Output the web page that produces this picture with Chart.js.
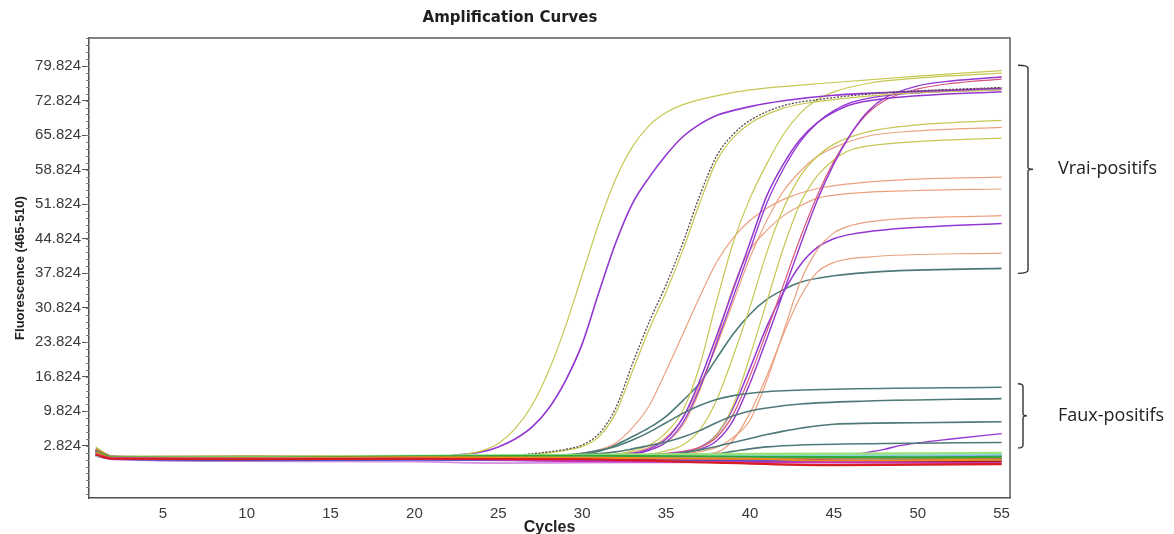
<!DOCTYPE html>
<html>
<head>
<meta charset="utf-8">
<title>Amplification Curves</title>
<script src="https://cdn.jsdelivr.net/npm/chart.js@4.4.1/dist/chart.umd.min.js"></script>
<style>
  html, body { margin: 0; padding: 0; background: #fff; }
  #wrap { width: 1174px; height: 534px; }
</style>
</head>
<body>
<div id="wrap"><canvas id="amp" width="1174" height="534"></canvas></div>
<script>
const X_TICKS = [5, 10, 15, 20, 25, 30, 35, 40, 45, 50, 55];
const Y_TICKS = [2.824, 9.824, 16.824, 23.824, 30.824, 37.824, 44.824, 51.824, 58.824, 65.824, 72.824, 79.824];
const VRAI_RANGE = [37.8, 80.0];
const FAUX_RANGE = [2.4, 15.4];

// vrais positifs : [cycle, fluorescence]
const vpA = [[1,2.6],[2,0.7],[5,0.5],[10,0.5],[15,0.5],[20,0.6],[22,0.8],[23,1.1],[24,1.8],[25,3.3],[26,6.3],[27,11],[28,18],[29,27],[30,37.5],[31,48],[32,57],[33,63.5],[34,67.8],[35,70.4],[36,72],[38,73.8],[40,75],[45,76.5],[50,77.8],[55,78.9]];
const vpB = [[1,1.8],[2,0.5],[10,0.4],[20,0.5],[22,0.8],[24,1.6],[25,2.6],[26,4.2],[27,6.6],[28,10.4],[29,16],[30,23.5],[31,34],[32,44],[33,52],[34,57.3],[35,61.8],[36,65.5],[37,68],[38,69.8],[40,71.6],[42,72.8],[45,73.9],[50,74.7],[55,75.3]];
const vpC = [[1,2.0],[2,0.5],[10,0.4],[20,0.4],[24,0.6],[26,0.9],[28,1.6],[29,2.1],[30,3.0],[31,5.3],[32,10.5],[33,19.5],[34,28],[35,35.5],[36,44],[37,53.5],[38,61.5],[39,66],[40,68.8],[42,71.8],[44,73],[48,74.4],[55,75.5]];
const vpC2 = [[1,1.7],[2,0.5],[10,0.4],[20,0.4],[24,0.6],[26,0.8],[28,1.4],[29,1.9],[30,2.7],[31,4.7],[32,9.5],[33,18],[34,26.5],[35,34],[36,42.5],[37,52],[38,60.5],[39,65.3],[40,68.2],[42,71.3],[44,72.6],[48,74],[55,75.0]];
const vpE = [[1,1.5],[2,0.5],[10,0.4],[20,0.4],[30,0.7],[32,1.1],[33,1.8],[34,3],[35,5.5],[36,10],[37,19],[38,32],[39,44],[40,53],[41,60],[42,66],[43,70.3],[44,73],[45,74.6],[47,76.3],[50,77.4],[55,78.4]];
const vpF1 = [[1,1.6],[2,0.4],[10,0.3],[20,0.4],[30,0.7],[33,1.3],[34,2.2],[35,4.2],[36,8.5],[37,16],[38,25],[39,34.5],[40,44],[41,53.5],[42,60],[43,65],[44,68.3],[45,70.5],[46,72],[48,73.2],[51,74],[55,74.6]];
const vpF2 = [[1,1.7],[2,0.5],[10,0.3],[20,0.4],[30,0.6],[33,1.1],[34,1.9],[35,3.6],[36,7.5],[37,14.5],[38,23.5],[39,33],[40,42.5],[41,52],[42,59],[43,64.5],[44,68.3],[45,70.8],[46,72.4],[48,73.8],[51,74.6],[55,75.1]];
const vpG = [[1,1.5],[2,0.4],[10,0.3],[20,0.4],[30,0.6],[35,1.2],[36,1.5],[37,2.1],[38,3.8],[39,8],[40,15.5],[41,24.5],[42,34],[43,43.5],[44,52.5],[45,60],[46,66],[47,70.5],[48,73.3],[50,75.8],[52,76.8],[55,77.6]];
const vpG2 = [[1,1.9],[2,0.5],[10,0.3],[20,0.4],[30,0.6],[35,1.3],[36,1.7],[37,2.5],[38,4.5],[39,9.2],[40,17],[41,26],[42,35.5],[43,45],[44,53.5],[45,60.5],[46,66],[47,70.2],[48,72.8],[50,75.2],[52,76.3],[55,77.2]];
const vpH = [[1,1.4],[2,0.5],[10,0.4],[20,0.4],[30,0.6],[34,1.1],[35,1.8],[36,3],[37,6],[38,12],[39,21],[40,31],[41,42],[42,51],[43,57.5],[44,61.5],[45,64],[47,66.5],[50,67.9],[55,68.8]];
const vpI = [[1,1.3],[2,0.5],[10,0.4],[20,0.4],[30,0.5],[35,1.1],[36,1.6],[37,2.4],[38,5],[39,11],[40,21],[41,32],[42,43],[43,52],[44,57.5],[45,60.8],[46,62.8],[48,64],[51,64.7],[55,65.2]];
const vpO1 = [[1,1.6],[2,0.5],[10,0.4],[20,0.4],[30,0.7],[33,1.5],[34,2.5],[35,4.5],[36,8.5],[37,15],[38,23],[39,32],[40,41],[41,48.5],[42,54.5],[43,58.5],[44,61.5],[45,63.3],[47,65.6],[50,66.7],[55,67.4]];
const vpO2 = [[1,1.5],[2,0.5],[10,0.4],[20,0.4],[28,0.7],[30,1.3],[31,2],[32,3.4],[33,6.5],[34,11],[35,18],[36,25.5],[37,33],[38,40],[39,45],[40,48.5],[41,51],[42,52.8],[44,55],[47,56.3],[50,56.9],[55,57.3]];
const vpO3 = [[1,1.4],[2,0.5],[10,0.4],[20,0.4],[30,0.6],[33,1.2],[34,2],[35,3.5],[36,7],[37,14],[38,24],[39,35],[40,42.5],[41,46.5],[42,49.5],[43,51.5],[44,53],[46,54],[50,54.6],[55,54.9]];
const vpO4 = [[1,1.2],[2,0.4],[10,0.3],[20,0.4],[30,0.6],[36,1.2],[38,2.5],[39,4.5],[40,8],[41,16],[42,26],[43,36],[44,42.5],[45,46],[46,47.5],[48,48.6],[55,49.5]];
const vpO5 = [[1,1.3],[2,0.4],[10,0.3],[20,0.4],[30,0.5],[36,0.9],[38,1.5],[39,4],[40,9.5],[41,17],[42,25.5],[43,33],[44,38],[45,40],[47,41.1],[55,41.9]];
const vpP = [[1,1.4],[2,0.4],[10,0.3],[20,0.4],[30,0.6],[35,1.2],[37,2.5],[38,5],[39,10.5],[40,18.5],[41,27],[42,34],[43,39.5],[44,43],[45,44.8],[46,45.7],[48,46.6],[51,47.3],[55,47.9]];
const vpT = [[1,1.2],[2,0.4],[10,0.3],[20,0.4],[28,0.7],[30,1.0],[31,1.7],[32,3],[33,4.7],[34,6.5],[35,8.8],[36,12],[37,15.5],[38,20.5],[39,25.5],[40,29.5],[41,32.5],[42,34.5],[43,36],[45,37.3],[48,38.2],[55,38.8]];

// faux positifs
const fp1 = [[1,1.1],[2,0.4],[10,0.3],[20,0.4],[28,0.8],[30,1.3],[31,1.9],[32,2.7],[33,4],[34,5.6],[35,7.5],[36,9.4],[37,11],[38,12.2],[39,13],[41,13.8],[45,14.3],[55,14.7]];
const fp2 = [[1,1.0],[2,0.4],[10,0.3],[20,0.4],[30,1.0],[32,1.6],[33,2.2],[34,2.9],[35,3.6],[36,4.6],[37,5.9],[38,7.5],[39,8.9],[40,9.9],[41,10.5],[43,11.3],[47,11.9],[55,12.4]];
const fp3 = [[1,1.0],[2,0.3],[10,0.3],[20,0.4],[30,0.6],[34,0.9],[36,1.4],[37,2.0],[38,2.7],[39,3.5],[40,4.3],[41,5.1],[42,5.8],[43,6.4],[45,7.2],[50,7.5],[55,7.7]];
const fp4 = [[1,0.9],[2,0.3],[10,0.3],[20,0.3],[30,0.4],[36,0.6],[38,1.2],[39,1.7],[40,2.2],[41,2.6],[43,3.0],[48,3.3],[55,3.5]];
const fp5 = [[1,1.2],[2,0.4],[10,0.2],[20,0.3],[30,0.3],[40,0.4],[44,0.5],[46,0.9],[47,1.5],[48,2.1],[49,2.9],[50,3.4],[52,4.2],[55,5.3]];

// négatifs
const ngRed = [[1,1.0],[2,0.2],[10,0.1],[20,0.2],[30,0.1],[38,-0.6],[45,-1.1],[50,-1.0],[55,-0.9]];
const ngDarkRed = [[1,1.3],[2,0.3],[10,0.2],[20,0.3],[30,0.1],[40,-0.5],[50,-0.4],[55,-0.3]];
const ngGreen = [[1,1.6],[2,0.5],[10,0.4],[20,0.7],[30,0.8],[40,0.6],[50,0.5],[55,0.6]];
const ngLime = [[1,1.2],[2,0.6],[10,0.5],[20,0.8],[30,1.0],[40,1.2],[50,1.3],[55,1.4]];
const ngCyan = [[1,0.9],[2,0.4],[10,0.3],[20,0.5],[30,0.7],[40,1.0],[50,1.1],[55,1.3]];
const ngBlue = [[1,0.8],[2,0.2],[10,-0.1],[20,0.0],[30,-0.2],[40,-0.3],[50,-0.1],[55,0.0]];
const ngMagenta = [[1,1.1],[2,0.3],[10,0.2],[20,0.2],[30,-0.3],[40,-0.5],[50,-0.6],[55,-0.7]];
const ngLilac = [[1,0.9],[2,0.1],[10,-0.3],[20,-0.4],[25,-0.7],[30,-0.6],[40,-0.5],[55,-0.4]];
const ngOrange = [[1,1.4],[2,0.4],[10,0.3],[20,0.5],[30,0.4],[40,0.2],[45,-0.2],[50,-0.1],[55,0.0]];
const ngSky = [[1,1.0],[2,0.3],[10,-0.2],[20,0.1],[30,0.3],[40,0.5],[50,0.8],[55,0.9]];
const ngOlive = [[1,2.2],[2,0.6],[10,0.7],[20,0.6],[30,0.5],[40,0.4],[50,0.3],[55,0.4]];
const ngViolet = [[1,1.8],[2,0.5],[10,0.0],[20,0.1],[30,-0.1],[40,-0.3],[50,-0.2],[55,0.2]];
const ngRose = [[1,2.0],[2,0.7],[10,0.3],[20,0.3],[30,0.2],[40,0.0],[50,0.4],[55,0.7]];
const ngMint = [[1,1.0],[2,0.5],[10,0.4],[20,0.6],[30,0.6],[40,0.9],[50,1.0],[55,1.1]];

const YELLOW = "#c6c752", PURPLE = "#9336d2", SALMON = "#eba17f", TEAL = "#4d7a78";

// first entries are drawn on top
const SERIES = [
  { data: ngRed, color: "#d81e1e", w: 2.2 },
  { data: ngMagenta, color: "#cc2fb8", w: 2.0 },
  { data: ngOrange, color: "#ef8a1f", w: 2.0 },
  { data: ngGreen, color: "#2ea83a", w: 2.0 },
  { data: ngLime, color: "#9be07a", w: 2.2 },
  { data: ngCyan, color: "#8fe3e0", w: 2.2 },
  { data: ngBlue, color: "#3d5fd0", w: 2.0 },
  { data: ngDarkRed, color: "#9c1c1c", w: 2.0 },
  { data: ngLilac, color: "#d58ee0", w: 1.8 },
  { data: ngSky, color: "#84b4e3", w: 2.0 },
  { data: ngOlive, color: "#b08d3c", w: 2.0 },
  { data: ngViolet, color: "#8a22d8", w: 2.0 },
  { data: ngRose, color: "#c04a78", w: 2.0 },
  { data: ngMint, color: "#60c8a0", w: 2.0 },
  { data: fp1, color: TEAL, w: 1.6 },
  { data: fp2, color: TEAL, w: 1.6 },
  { data: fp3, color: TEAL, w: 1.6 },
  { data: fp4, color: TEAL, w: 1.6 },
  { data: fp5, color: PURPLE, w: 1.4 },
  { data: vpC, color: "#5a4a48", w: 1.3, dash: [2, 1.5] },
  { data: vpC2, color: YELLOW, w: 1.2 },
  { data: vpA, color: YELLOW, w: 1.2 },
  { data: vpB, color: PURPLE, w: 1.6 },
  { data: vpE, color: YELLOW, w: 1.2 },
  { data: vpF1, color: PURPLE, w: 1.5 },
  { data: vpF2, color: PURPLE, w: 1.3 },
  { data: vpG, color: PURPLE, w: 1.4 },
  { data: vpG2, color: "#d6557d", w: 1.2 },
  { data: vpH, color: YELLOW, w: 1.2 },
  { data: vpI, color: YELLOW, w: 1.2 },
  { data: vpO1, color: SALMON, w: 1.2 },
  { data: vpO2, color: SALMON, w: 1.2 },
  { data: vpO3, color: SALMON, w: 1.2 },
  { data: vpO4, color: SALMON, w: 1.2 },
  { data: vpO5, color: SALMON, w: 1.2 },
  { data: vpP, color: PURPLE, w: 1.5 },
  { data: vpT, color: TEAL, w: 1.6 },
];

function drawBrace(ctx, x, yTop, yBot, arm, nub) {
  const mid = (yTop + yBot) / 2;
  ctx.beginPath();
  ctx.moveTo(x - arm, yTop);
  ctx.quadraticCurveTo(x, yTop, x, yTop + 3);
  ctx.lineTo(x, mid - 2);
  ctx.quadraticCurveTo(x, mid, x + nub, mid);
  ctx.quadraticCurveTo(x, mid, x, mid + 2);
  ctx.lineTo(x, yBot - 3);
  ctx.quadraticCurveTo(x, yBot, x - arm, yBot);
  ctx.stroke();
  return mid;
}

// frame, minor y ticks and the two group braces
const framePlugin = {
  id: "frame",
  afterDraw(chart) {
    const { ctx, chartArea: a, scales: { y } } = chart;
    ctx.save();
    ctx.strokeStyle = "#5a5a5a";
    ctx.lineWidth = 1.5;
    ctx.beginPath();
    ctx.moveTo(a.left, a.top);
    ctx.lineTo(a.right, a.top);
    ctx.lineTo(a.right, a.bottom);
    ctx.stroke();

    ctx.lineWidth = 1;
    ctx.strokeStyle = "#808080";
    const step = (Y_TICKS[1] - Y_TICKS[0]) / 5;
    let v = Y_TICKS[0];
    while (v - step > y.min) v -= step;
    for (; v <= y.max; v += step) {
      const py = Math.round(y.getPixelForValue(v)) + 0.5;
      ctx.beginPath();
      ctx.moveTo(a.left - 3, py);
      ctx.lineTo(a.left, py);
      ctx.stroke();
    }

    ctx.strokeStyle = "#333";
    ctx.lineWidth = 1.4;
    ctx.fillStyle = "#222";
    ctx.font = "18px 'Open Sans'";
    ctx.textBaseline = "middle";
    const vMid = drawBrace(ctx, a.right + 18, y.getPixelForValue(VRAI_RANGE[1]), y.getPixelForValue(VRAI_RANGE[0]), 10, 5);
    ctx.fillText("Vrai-positifs", a.right + 48, vMid);
    const fMid = drawBrace(ctx, a.right + 13, y.getPixelForValue(FAUX_RANGE[1]), y.getPixelForValue(FAUX_RANGE[0]), 5, 4);
    ctx.fillText("Faux-positifs", a.right + 48, fMid);
    ctx.restore();
  },
};

Chart.defaults.font.family = "'Liberation Sans', Arial, sans-serif";

new Chart(document.getElementById("amp"), {
  type: "line",
  data: {
    datasets: SERIES.map((s) => ({
      data: s.data.map(([x, y]) => ({ x, y })),
      borderColor: s.color,
      borderWidth: s.w,
      borderDash: s.dash || [],
      pointRadius: 0,
      fill: false,
      cubicInterpolationMode: "monotone",
    })),
  },
  options: {
    responsive: false,
    animation: false,
    events: [],
    layout: { padding: { left: 10, right: 164, top: 0, bottom: 0 } },
    plugins: {
      legend: { display: false },
      tooltip: { enabled: false },
      title: {
        display: true,
        text: "Amplification Curves",
        color: "#1e1e1e",
        font: { family: "'DejaVu Sans'", size: 15, weight: "bold", lineHeight: 1.2 },
        padding: { top: 9, bottom: 11 },
      },
    },
    scales: {
      x: {
        type: "linear",
        min: 0.6,
        max: 55.5,
        afterBuildTicks: (s) => { s.ticks = X_TICKS.map((value) => ({ value })); },
        afterFit: (s) => { s.height = 36; s.paddingLeft = 0; s.paddingRight = 0; },
        grid: { drawOnChartArea: false, drawTicks: false },
        border: { color: "#505050", width: 1.5 },
        ticks: { color: "#3a3a3a", font: { size: 15 }, padding: 7, maxRotation: 0 },
        title: {
          display: true,
          text: "Cycles",
          color: "#222",
          font: { size: 16, weight: "bold", lineHeight: 0.75 },
          padding: { top: 0, bottom: 0 },
        },
      },
      y: {
        min: -7.76,
        max: 85.52,
        afterBuildTicks: (s) => { s.ticks = Y_TICKS.map((value) => ({ value })); },
        afterFit: (s) => { s.width = 79; s.paddingTop = 0; s.paddingBottom = 0; },
        grid: { drawOnChartArea: false, tickLength: 7, color: "#555" },
        border: { color: "#505050", width: 1.5 },
        ticks: { color: "#3a3a3a", font: { size: 15 }, padding: 1, callback: (v) => v.toFixed(3) },
        title: {
          display: true,
          text: "Fluorescence (465-510)",
          color: "#222",
          font: { size: 13, weight: "bold" },
          padding: { top: 2.2, bottom: 0 },
        },
      },
    },
  },
  plugins: [framePlugin],
});
</script>
</body>
</html>
